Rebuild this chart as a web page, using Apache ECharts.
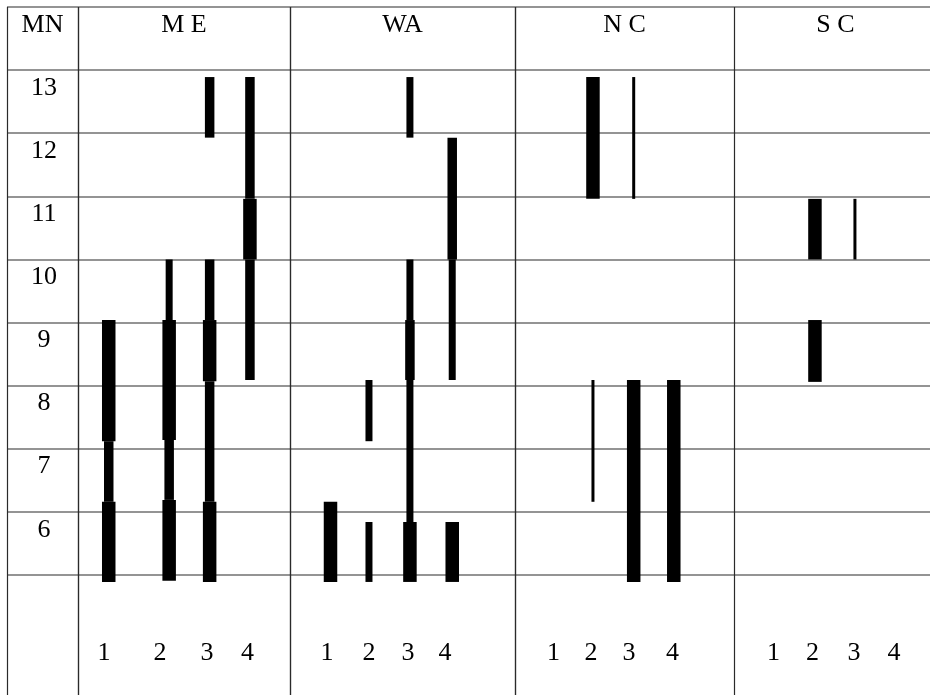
<!DOCTYPE html>
<html><head><meta charset="utf-8">
<script src="https://cdn.jsdelivr.net/npm/echarts@6/dist/echarts.min.js"></script>
<style>html,body{margin:0;padding:0;background:#fff}#c{width:930px;height:695px}</style>
</head><body><div id="c"></div>
<script>
// ---------------- data ----------------
const cornerLabel = 'MN';
const groups = ['M E', 'WA', 'N C', 'S C'];
const subColumns = ['1', '2', '3', '4'];
const rows = [6, 7, 8, 9, 10, 11, 12, 13];
// each bar segment: [sub-column, from, to, thickness class (1 thin .. 4 thick)]
const barsME = [
  [1, 5.89, 7.16, 4], [1, 7.16, 8.12, 3], [1, 8.12, 10.04, 4],
  [2, 5.91, 7.19, 4], [2, 7.19, 8.14, 3], [2, 8.14, 10.04, 4], [2, 10.04, 11.00, 2],
  [3, 5.89, 7.16, 4], [3, 7.16, 9.07, 3], [3, 9.07, 10.04, 4], [3, 10.04, 11.00, 3], [3, 12.93, 13.89, 3],
  [4, 9.09, 11.00, 3], [4, 11.00, 11.96, 4], [4, 11.96, 13.89, 3]
];
const barsWA = [
  [1, 5.89, 7.16, 4],
  [2, 5.89, 6.84, 2], [2, 8.12, 9.09, 2],
  [3, 5.89, 6.84, 4], [3, 6.84, 9.09, 2], [3, 9.09, 10.04, 3], [3, 10.04, 11.00, 2], [3, 12.93, 13.89, 2],
  [4, 5.89, 6.84, 4], [4, 9.09, 11.00, 2], [4, 11.00, 12.93, 3]
];
const barsNC = [
  [2, 7.16, 9.09, 1], [2, 11.96, 13.89, 4],
  [3, 5.89, 9.09, 4], [3, 11.96, 13.89, 1],
  [4, 5.89, 9.09, 4]
];
const barsSC = [
  [2, 9.06, 10.04, 4], [2, 11.00, 11.96, 4],
  [3, 11.00, 11.96, 1]
];
const groupBars = [barsME, barsWA, barsNC, barsSC];

// ---------------- layout / style ----------------
const FONT = "'Liberation Serif','Times New Roman',serif";
const FS = 26;
const colEdges = [7, 78, 290, 515, 734, 930];
const CANVAS_W = 930;
// positions of the sub-columns inside each group column (0..1 of its width)
const barPos = [
  [0.145, 0.430, 0.621, 0.811],
  [0.180, 0.351, 0.533, 0.721],
  [0.176, 0.356, 0.542, 0.725],
  [0.202, 0.413, 0.617, 0.816]
];
const labelPos = [
  [0.123, 0.387, 0.608, 0.800],
  [0.164, 0.351, 0.524, 0.689],
  [0.176, 0.347, 0.521, 0.719],
  [0.2015, 0.4005, 0.612, 0.816]
];
const levelWidth = {1: 3, 2: 7, 3: 9.5, 4: 13.5};
const TOP = 7, BOTTOM = 120;
const HLINE = {color: '#707070', width: 1.5};
const VLINE = {color: '#2a2a2a', width: 1.2};

const headers = [cornerLabel].concat(groups);
const grid = [], xAxis = [], yAxis = [], series = [];
headers.forEach((h, i) => {
  grid.push({left: colEdges[i], right: CANVAS_W - colEdges[i + 1], top: TOP, bottom: BOTTOM});
  const last = i === headers.length - 1;
  yAxis.push({
    gridIndex: i, type: 'value', min: rows[0], max: rows[rows.length - 1] + 2, interval: 1,
    axisLine: {show: false}, axisTick: {show: false},
    axisLabel: i === 0 ? {
      show: true, inside: true, margin: 37, align: 'center', verticalAlign: 'middle',
      customValues: rows.map(r => r + 0.717),
      formatter: v => String(Math.round(v - 0.717)),
      fontFamily: FONT, fontSize: FS, color: '#000'
    } : {show: false},
    splitLine: {show: true, lineStyle: HLINE}
  });
  const lp = i > 0 ? labelPos[i - 1] : null;
  xAxis.push({
    gridIndex: i, type: 'value', min: 0, max: 1, interval: 1, position: 'bottom',
    axisLine: {show: false},
    // the last column's left edge is already drawn by its neighbour; its right edge is off the page
    axisTick: {show: !last, length: BOTTOM, inside: false, lineStyle: VLINE},
    splitLine: {show: !last, lineStyle: VLINE},
    axisLabel: lp ? {
      show: true, customValues: lp, margin: 78, verticalAlign: 'middle',
      formatter: v => {
        let best = 0;
        lp.forEach((p, k) => { if (Math.abs(p - v) < Math.abs(lp[best] - v)) best = k; });
        return subColumns[best];
      },
      fontFamily: FONT, fontSize: FS, color: '#000'
    } : {show: false}
  });
});
headers.forEach((h, i) => {
  const last = i === headers.length - 1;
  xAxis.push({
    gridIndex: i, type: 'value', min: 0, max: 1, position: 'top',
    axisLine: {show: false}, axisTick: {show: false}, axisLabel: {show: false}, splitLine: {show: false},
    name: h, nameLocation: 'middle', nameGap: -18,
    nameTextStyle: {fontFamily: FONT, fontSize: FS, color: '#000', verticalAlign: 'middle',
                    padding: last ? [0, 0, 0, 7] : 0}
  });
});
groups.forEach((g, gi) => {
  const idx = gi + 1;
  series.push({
    type: 'custom', name: g, xAxisIndex: idx, yAxisIndex: idx, silent: true,
    data: groupBars[gi],
    renderItem: (params, api) => {
      const sub = api.value(0), from = api.value(1), to = api.value(2), lvl = api.value(3);
      const xp = barPos[gi][sub - 1];
      const pTop = api.coord([xp, to]);
      const pBot = api.coord([xp, from]);
      const w = levelWidth[lvl];
      return {type: 'rect', shape: {x: pTop[0] - w / 2, y: pTop[1], width: w, height: pBot[1] - pTop[1]},
              style: {fill: '#000'}};
    }
  });
});

const chart = echarts.init(document.getElementById('c'), null, {renderer: 'canvas'});
chart.setOption({animation: false, backgroundColor: '#fff', grid, xAxis, yAxis, series});
</script></body></html>
